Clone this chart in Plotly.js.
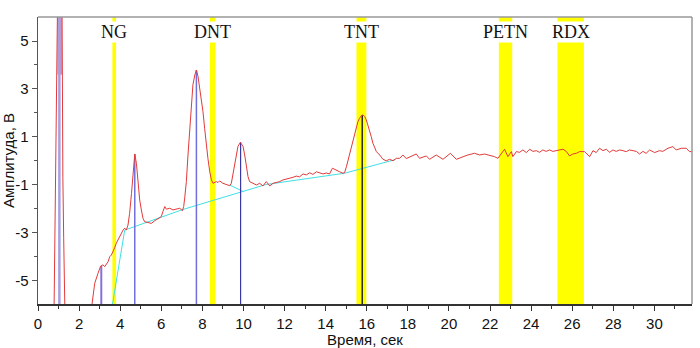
<!DOCTYPE html>
<html>
<head>
<meta charset="utf-8">
<script src="https://cdn.plot.ly/plotly-3.0.1.min.js"></script>
<style>html,body{margin:0;padding:0;background:#fff;}#chart{width:700px;height:348px;}</style>
</head>
<body>
<div id="chart"></div>
<script>
// Chromatogram signal (time, s ; amplitude, V)
const signalX = [0.78,0.83,0.87,0.93,0.95,1.17,1.18,1.21,1.25,1.31,1.6,2.4,
2.63,2.76,2.92,3.05,3.16,3.25,3.41,3.49,3.57,3.65,3.73,3.81,3.89,3.98,4.06,4.14,4.22,4.30,4.38,4.46,4.55,4.63,4.71,4.79,4.87,4.95,5.03,5.11,5.19,5.35,5.52,5.68,5.84,6.0,6.08,6.17,6.25,6.41,6.57,6.73,6.9,7.03,7.09,7.14,7.22,7.3,7.38,7.46,7.54,7.63,7.71,7.79,7.87,7.95,8.03,8.11,8.19,8.27,8.36,8.44,8.52,8.6,8.68,8.76,8.84,9.0,9.17,9.33,9.41,9.49,9.57,9.65,9.73,9.85,9.98,10.06,10.14,10.22,10.3,10.46,10.63,10.79,10.95,11.11,11.28,11.44,11.6,11.76,11.92,12.08,12.25,12.41,12.57,12.73,12.9,13.06,13.22,13.38,13.55,13.71,13.87,14.03,14.19,14.33,14.52,14.68,14.84,14.92,15.01,15.09,15.17,15.25,15.33,15.41,15.49,15.57,15.65,15.73,15.82,15.9,15.98,16.06,16.14,16.22,16.3,16.38,16.47,16.63,16.79,16.95,17.11,17.28,17.44,17.6,17.76,17.92,18.17,18.41,18.57,18.9,19.06,19.38,19.71,20.07,20.36,20.68,20.92,21.25,21.49,21.73,21.97,22.22,22.38,22.55,22.71,22.87,23.04,23.11,23.28,23.44,23.6,23.77,23.93,24.09,24.25,24.41,24.57,24.73,24.9,25.06,25.22,25.39,25.55,25.71,25.87,26.03,26.2,26.36,26.6,26.85,27.01,27.17,27.33,27.5,27.66,27.82,27.98,28.14,28.31,28.47,28.63,28.79,28.95,29.12,29.28,29.44,29.6,29.77,30.01,30.25,30.41,30.66,30.9,31.06,31.31,31.55,31.71,31.85];
const signalY = [-6.3,-3.2,-0.7,3.6,6.5,6.5,3.6,-0.7,-3.2,-6.3,-7,-7,
-5.96,-5.1,-4.68,-4.38,-4.33,-4.4,-4.2,-3.99,-3.92,-3.78,-3.62,-3.43,-3.29,-3.15,-3.01,-2.88,-2.8,-2.88,-2.67,-2.18,-1.35,-0.51,0.29,-0.1,-0.93,-1.63,-2.04,-2.39,-2.53,-2.57,-2.6,-2.49,-2.39,-2.32,-2.11,-1.9,-2.01,-1.97,-2.04,-2.01,-1.97,-2.07,-1.9,-1.55,-0.86,0.25,1.36,2.33,3.17,3.58,3.79,3.51,3.03,2.61,2.05,1.36,0.67,0.11,-0.45,-0.79,-0.93,-0.9,-0.86,-0.9,-0.83,-0.93,-0.97,-1.03,-0.93,-0.58,-0.17,0.25,0.6,0.78,0.6,0.25,-0.3,-0.65,-0.86,-0.93,-1.0,-0.93,-1.04,-0.86,-1.04,-0.93,-0.9,-0.86,-0.79,-0.76,-0.72,-0.68,-0.63,-0.66,-0.54,-0.58,-0.49,-0.56,-0.45,-0.5,-0.54,-0.5,-0.54,-0.3,-0.4,-0.45,-0.51,-0.49,-0.24,0.04,0.32,0.6,0.88,1.15,1.43,1.64,1.78,1.88,1.92,1.85,1.71,1.5,1.29,1.01,0.74,0.53,0.39,0.25,0.07,0.01,0.07,0.01,0.11,0.11,0.25,0.1,0.18,0.29,0.11,0.21,0.07,0.25,0.07,0.32,0.07,0.18,0.25,0.32,0.25,0.29,0.25,0.18,0.11,0.29,0.49,0.18,0.39,0.18,0.39,0.36,0.46,0.35,0.49,0.4,0.43,0.36,0.46,0.4,0.46,0.4,0.43,0.46,0.49,0.4,0.21,0.29,0.32,0.39,0.39,0.18,0.43,0.35,0.53,0.43,0.49,0.36,0.46,0.4,0.46,0.43,0.39,0.46,0.43,0.4,0.29,0.4,0.32,0.46,0.35,0.43,0.4,0.53,0.6,0.46,0.53,0.53,0.39,0.39];

// Baseline (cyan)
const baseX = [3.62,4.22,7.06,11.1,14.92,17.4];
const baseY = [-6.0,-2.88,-2.02,-0.98,-0.51,0.06];
const base2X = [9.33,10.0];
const base2Y = [-1.0,-1.28];

// Saturated first peak top (pink area)
const satX = [0.94,1.17,1.17,0.94];
const satY = [3.6,3.6,6.5,6.5];

// Peak markers
const peakX = [1.04,3.08,4.71,7.71,9.86,15.78];
const peakTop = [6.5,-4.38,0.29,3.79,0.78,1.92];
const peakColor = ['#a8a0e0','#8a70d8','#7070dd','#7070dd','#3838a8','#2a2a2a'];
const peakWidth = [2.5,2,1.5,1.5,1.2,1.5];

// Library windows
const bandLabels = ['NG','DNT','TNT','PETN','RDX'];
const bandStart = [3.62,8.37,15.5,22.43,25.28];
const bandEnd = [3.80,8.64,15.98,23.08,26.57];

// Ticks
const yTickVals = [-5,-3,-1,1,3,5];
const yTickText = ['-5','-3','-1','1','3','5'];
const yMinorVals = [-4,-2,0,2,4];

const traces = [];
traces.push({x: satX, y: satY, mode:'lines', fill:'toself', fillcolor:'#d68fc4', line:{color:'#d68fc4', width:0}, hoverinfo:'skip'});
traces.push({x: baseX, y: baseY, mode:'lines', line:{color:'#3fe0e6', width:1}});
traces.push({x: base2X, y: base2Y, mode:'lines', line:{color:'#3fe0e6', width:1}});
for (let i = 0; i < peakX.length; i++) {
  traces.push({x:[peakX[i], peakX[i]], y:[-6.5, peakTop[i]], mode:'lines', line:{color: peakColor[i], width: peakWidth[i]}});
}
traces.push({x: signalX, y: signalY, mode:'lines', line:{color:'#e23a3a', width:1}});

const shapes = bandLabels.map((l,i)=>({type:'rect', xref:'x', yref:'paper', x0:bandStart[i], x1:bandEnd[i], y0:0, y1:1, fillcolor:'#ffff00', line:{width:0}, layer:'below'}));
shapes.push({type:'line', xref:'paper', yref:'paper', x0:0, x1:1, y0:1, y1:1, line:{color:'#999', width:1.5}});
shapes.push({type:'line', xref:'paper', yref:'paper', x0:1, x1:1, y0:0, y1:1, line:{color:'#999', width:1.5}});

const annotations = bandLabels.map((l,i)=>({text:l, x:(bandStart[i]+bandEnd[i])/2, xref:'x', y:5.38, yref:'y', showarrow:false, bgcolor:'#ffffff', borderpad:0, font:{family:'Liberation Serif, Times New Roman, serif', size:18, color:'#111'}, yanchor:'middle', xanchor:'center'}));

const layout = {
  width:700, height:348,
  margin:{l:38, r:8, t:17, b:44},
  paper_bgcolor:'#fff', plot_bgcolor:'#fff',
  showlegend:false,
  font:{family:'Liberation Sans, Arial, sans-serif', size:15, color:'#111'},
  xaxis:{range:[0,31.83], showgrid:false, zeroline:false, showline:true, linecolor:'#333', linewidth:1.5,
    ticks:'outside', ticklen:5, tickcolor:'#333', tickmode:'linear', tick0:0, dtick:2,
    minor:{tickmode:'linear', tick0:1, dtick:2, ticks:'outside', ticklen:3, tickcolor:'#333'},
    tickfont:{size:15}, title:{text:'Время, сек', font:{size:15}, standoff:2}},
  yaxis:{range:[-5.96,6.0], showgrid:false, zeroline:false, showline:true, linecolor:'#555', linewidth:1.5,
    ticks:'outside', ticklen:5, tickcolor:'#555', tickmode:'array', tickvals:yTickVals, ticktext:yTickText,
    minor:{tickmode:'array', tickvals:yMinorVals, ticks:'outside', ticklen:3, tickcolor:'#555'},
    tickfont:{size:15}, title:{text:'Амплитуда, В', font:{size:15}, standoff:0}},
  shapes: shapes,
  annotations: annotations
};
Plotly.newPlot('chart', traces, layout, {staticPlot:true, displayModeBar:false});
</script>
</body>
</html>
